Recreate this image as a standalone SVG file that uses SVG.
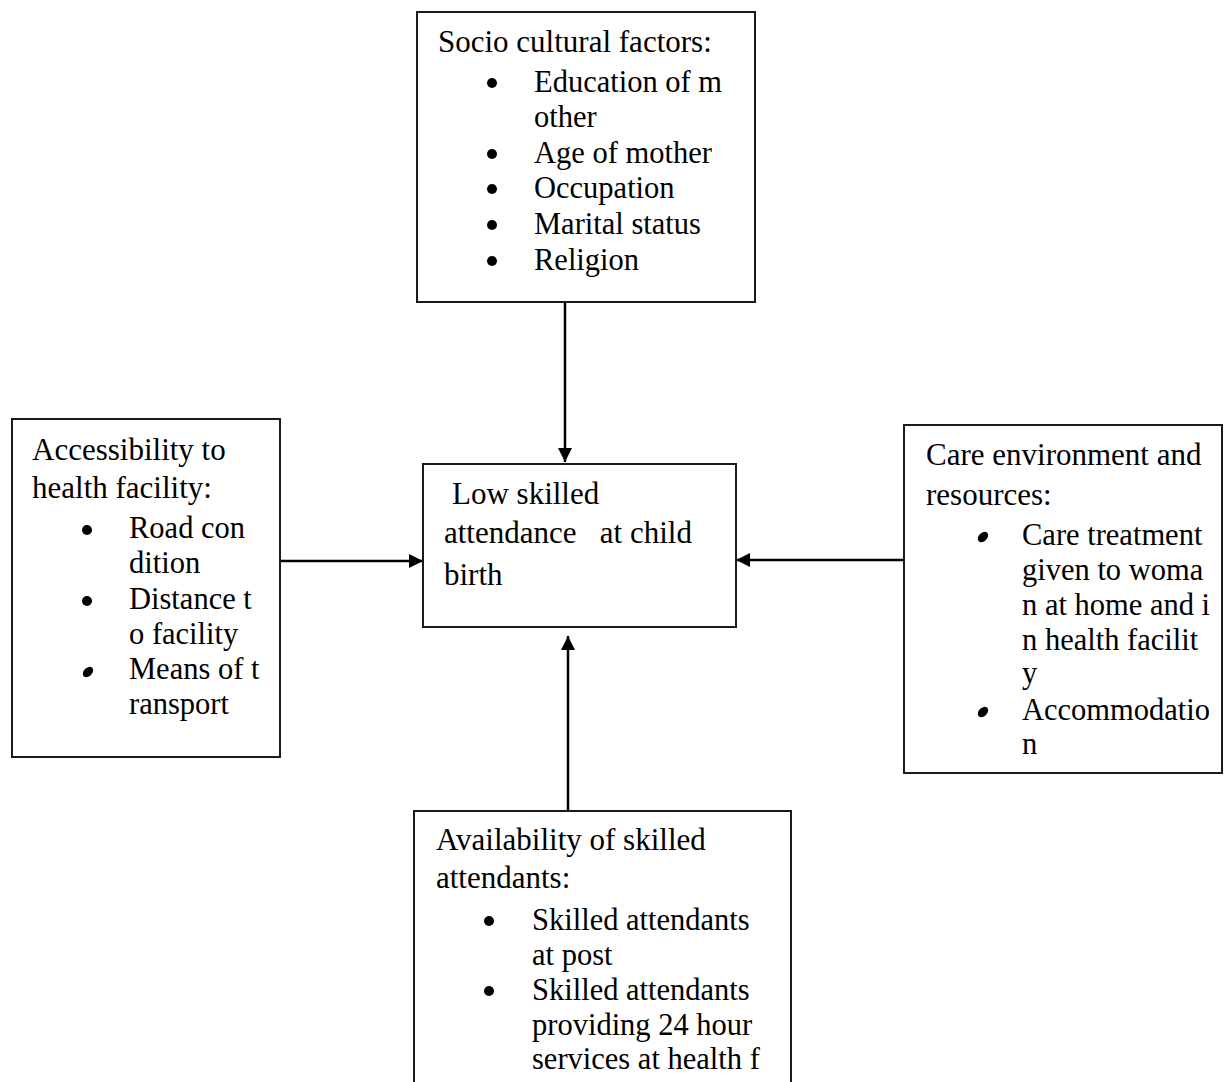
<svg xmlns="http://www.w3.org/2000/svg" width="1224" height="1082" viewBox="0 0 1224 1082">
<style>
.box{fill:#fff;stroke:#1a1a1a;stroke-width:2}
.t{font-family:"Liberation Serif","Times New Roman",serif;font-size:31px;fill:#000}
.b{font-family:"Liberation Serif","Times New Roman",serif;font-size:30.5px;fill:#000}
.dot{fill:#000}
.conn{stroke:#000;stroke-width:2.5;fill:none;marker-end:url(#ah)}
</style>
<defs>
<marker id="ah" markerUnits="userSpaceOnUse" markerWidth="16" markerHeight="16" refX="14" refY="7" orient="auto">
<path d="M0,0 L14,7 L0,14 Z" fill="#000"/>
</marker>
</defs>
<rect width="1224" height="1082" fill="#fff"/>

<g id="connectors">
<line class="conn" x1="565" y1="302" x2="565" y2="462"/>
<line class="conn" x1="280" y1="561" x2="423" y2="561"/>
<line class="conn" x1="904" y1="560" x2="736" y2="560"/>
<line class="conn" x1="568" y1="811" x2="568" y2="636"/>
</g>

<g id="socio">
<rect class="box" x="417" y="12" width="338" height="290"/>
<text class="t" x="438" y="52">Socio cultural factors:</text>
<circle class="dot" cx="492" cy="83" r="5"/>
<text class="b" x="534" y="92">Education of m</text>
<text class="b" x="534" y="127">other</text>
<circle class="dot" cx="492" cy="154" r="5"/>
<text class="b" x="534" y="163">Age of mother</text>
<circle class="dot" cx="492" cy="189" r="5"/>
<text class="b" x="534" y="198">Occupation</text>
<circle class="dot" cx="492" cy="225" r="5"/>
<text class="b" x="534" y="234">Marital status</text>
<circle class="dot" cx="492" cy="261" r="5"/>
<text class="b" x="534" y="270">Religion</text>
</g>

<g id="accessibility">
<rect class="box" x="12" y="419" width="268" height="338"/>
<text class="t" x="32" y="460">Accessibility to</text>
<text class="t" x="32" y="498">health facility:</text>
<circle class="dot" cx="87" cy="530" r="5"/>
<text class="b" x="129" y="538">Road con</text>
<text class="b" x="129" y="573">dition</text>
<circle class="dot" cx="87" cy="601" r="5"/>
<text class="b" x="129" y="609">Distance t</text>
<text class="b" x="129" y="644">o facility</text>
<ellipse class="dot" cx="88" cy="672" rx="6" ry="4.2" transform="rotate(-45 88 672)"/>
<text class="b" x="129" y="679">Means of t</text>
<text class="b" x="129" y="714">ransport</text>
</g>

<g id="center">
<rect class="box" x="423" y="464" width="313" height="163"/>
<text class="t" x="452" y="504">Low skilled</text>
<text class="t" x="444" y="543" xml:space="preserve">attendance   at child</text>
<text class="t" x="444" y="585">birth</text>
</g>

<g id="care">
<rect class="box" x="904" y="425" width="318" height="348"/>
<text class="t" x="926" y="465">Care environment and</text>
<text class="t" x="926" y="505">resources:</text>
<ellipse class="dot" cx="983" cy="537" rx="6" ry="4.2" transform="rotate(-45 983 537)"/>
<text class="b" x="1022" y="545">Care treatment</text>
<text class="b" x="1022" y="580">given to woma</text>
<text class="b" x="1022" y="615">n at home and i</text>
<text class="b" x="1022" y="650">n health facilit</text>
<text class="b" x="1022" y="683">y</text>
<ellipse class="dot" cx="983" cy="712" rx="6" ry="4.2" transform="rotate(-45 983 712)"/>
<text class="b" x="1022" y="720">Accommodatio</text>
<text class="b" x="1022" y="754">n</text>
</g>

<g id="availability">
<rect class="box" x="414" y="811" width="377" height="290"/>
<text class="t" x="436" y="850">Availability of skilled</text>
<text class="t" x="436" y="888">attendants:</text>
<circle class="dot" cx="489" cy="921" r="5"/>
<text class="b" x="532" y="930">Skilled attendants</text>
<text class="b" x="532" y="965">at post</text>
<circle class="dot" cx="489" cy="991" r="5"/>
<text class="b" x="532" y="1000">Skilled attendants</text>
<text class="b" x="532" y="1035">providing 24 hour</text>
<text class="b" x="532" y="1069">services at health f</text>
</g>
</svg>
